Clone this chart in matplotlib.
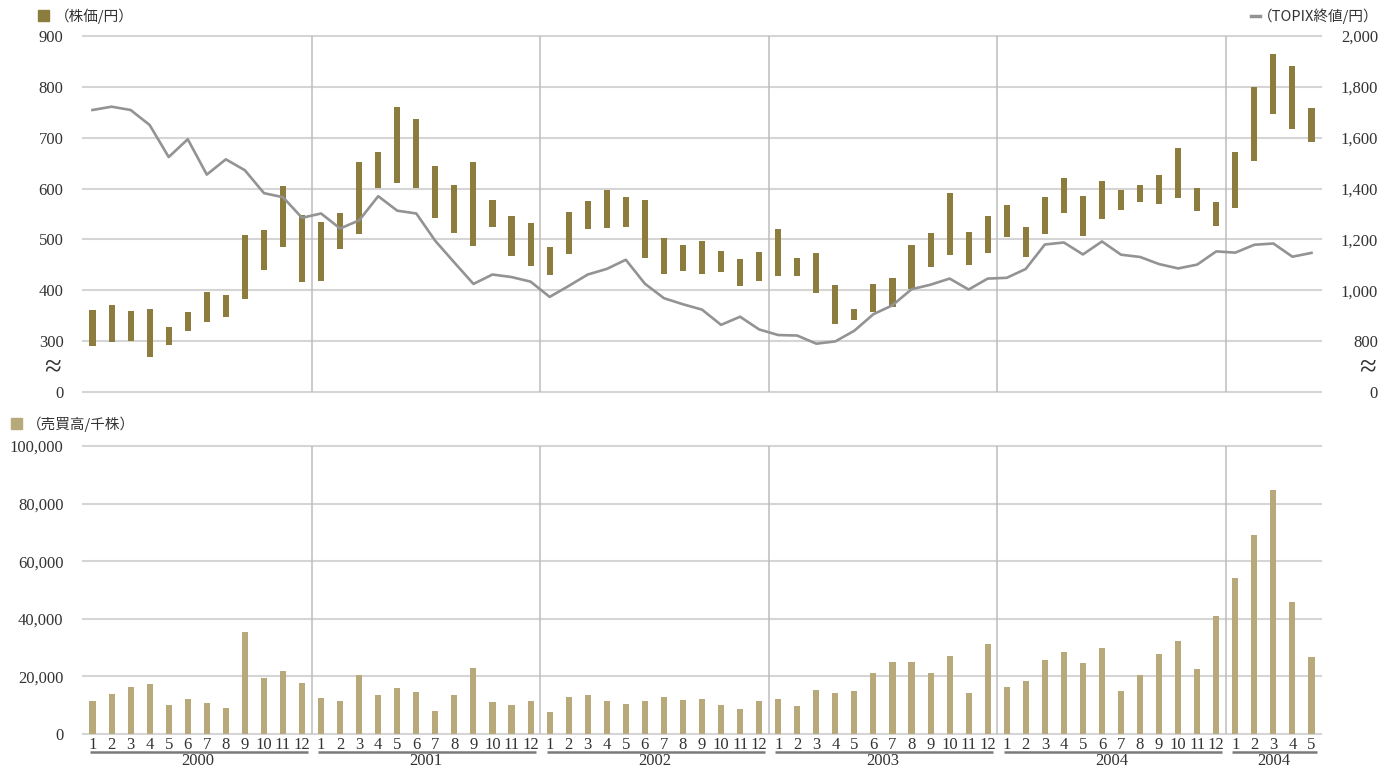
import matplotlib.pyplot as plt
import matplotlib.transforms as mtransforms
import numpy as np

# 月ラベルと年ラベル
months = [str(m) for m in range(1, 13)] * 5 + ['1', '2', '3', '4', '5']
years = ['2000', '2001', '2002', '2003', '2004', '2004']
year_sizes = [12, 12, 12, 12, 12, 5]

# 株価（高値・安値, 円）
price_high = [361, 371, 359, 363, 328, 357, 396, 390, 508, 518, 606, 549,
              535, 551, 653, 671, 761, 737, 645, 608, 653, 578, 547, 533,
              486, 553, 575, 598, 584, 578, 502, 490, 496, 478, 461, 476,
              520, 463, 473, 410, 363, 412, 425, 490, 512, 592, 514, 547,
              567, 525, 584, 620, 586, 614, 598, 608, 627, 680, 602, 573,
              671, 800, 865, 841, 759]
price_low = [291, 299, 301, 269, 293, 320, 338, 348, 383, 440, 485, 416,
             418, 481, 510, 601, 611, 601, 542, 512, 487, 524, 467, 448,
             430, 471, 520, 522, 524, 463, 432, 438, 432, 436, 408, 418,
             428, 428, 395, 334, 342, 357, 367, 403, 446, 469, 450, 473,
             505, 465, 510, 552, 506, 540, 557, 573, 569, 581, 556, 526,
             561, 654, 746, 718, 691]

# TOPIX終値（円）
topix = [1709, 1722, 1709, 1650, 1524, 1594, 1455, 1515, 1472, 1382, 1366, 1285,
         1302, 1243, 1275, 1370, 1313, 1302, 1194, 1109, 1025, 1062, 1052, 1034,
         974, 1017, 1062, 1084, 1120, 1026, 969, 945, 924, 864, 896, 846,
         824, 822, 790, 799, 841, 906, 941, 1004, 1022, 1046, 1003, 1046,
         1049, 1084, 1180, 1188, 1141, 1192, 1140, 1131, 1103, 1086, 1101, 1153,
         1148, 1179, 1184, 1132, 1147]

# 売買高（千株）
volume = [11400, 13800, 16300, 17300, 10000, 12100, 10700, 9000, 35300, 19400, 21800, 17600,
          12500, 11400, 20400, 13500, 15900, 14500, 8000, 13500, 22800, 11100, 10000, 11400,
          7600, 12800, 13500, 11400, 10400, 11400, 12800, 11800, 12100, 10000, 8700, 11400,
          12100, 9700, 15200, 14200, 14900, 21100, 24900, 24900, 21100, 27000, 14200, 31100,
          16300, 18300, 25600, 28400, 24600, 29800, 14900, 20400, 27700, 32200, 22500, 40800,
          54300, 69200, 84800, 45700, 26600]

price_color = '#8C7C3E'
vol_color = '#B8A97A'
line_color = '#939393'
grid_color = '#D5D5D5'
sep_color = '#BDBDBD'
text_color = '#333333'
serif = ['Liberation Serif', 'DejaVu Serif']
cjk = ['Noto Sans CJK JP', 'DejaVu Sans']

x = np.arange(len(months))
high = np.array(price_high)
low = np.array(price_low)

fig = plt.figure(figsize=(13.93, 7.71), dpi=100)
ax1 = fig.add_axes([83 / 1393, 1 - 392 / 771, 1238 / 1393, 356 / 771])
ax2 = fig.add_axes([83 / 1393, 1 - 734 / 771, 1238 / 1393, 288 / 771])

for ax in (ax1, ax2):
    for s in ax.spines.values():
        s.set_visible(False)
    ax.set_xlim(-0.5, len(months) - 0.5)
    ax.set_xticks([])

# 上段：株価レンジ + TOPIX
ax1.set_ylim(200, 900)
ticks1 = list(range(200, 1000, 100))
for t in ticks1:
    ax1.axhline(t, color=grid_color, lw=1.5, zorder=0, clip_on=False)
ax1.set_yticks(ticks1)
ax1.set_yticklabels(['0'] + [str(t) for t in ticks1[1:]], family=serif, fontsize=12, color=text_color)
ax1.tick_params(axis='y', length=0, pad=14)

ax1.bar(x, high - low, bottom=low, width=0.32, color=price_color, zorder=3)

ax1r = ax1.twinx()
for s in ax1r.spines.values():
    s.set_visible(False)
ax1r.set_ylim(600, 2000)
ticks_r = list(range(600, 2200, 200))
ax1r.set_yticks(ticks_r)
ax1r.set_yticklabels(['0'] + [f'{t:,}' for t in ticks_r[1:]], family=serif, fontsize=12, color=text_color)
ax1r.tick_params(axis='y', length=0, pad=41)
for lbl in ax1r.get_yticklabels():
    lbl.set_horizontalalignment('right')
ax1r.plot(x, topix, color=line_color, lw=1.9, zorder=4)

# 下段：売買高
ax2.set_ylim(0, 100000)
ticks2 = list(range(0, 120000, 20000))
for t in ticks2:
    ax2.axhline(t, color=grid_color, lw=1.5, zorder=0, clip_on=False)
ax2.set_yticks(ticks2)
ax2.set_yticklabels([f'{t:,}' for t in ticks2], family=serif, fontsize=12, color=text_color)
ax2.tick_params(axis='y', length=0, pad=14)
ax2.bar(x, volume, width=0.32, color=vol_color, zorder=3)

# 年の区切り線
bounds = np.cumsum(year_sizes)[:-1] - 0.5
for b in bounds:
    ax1.axvline(b, color=sep_color, lw=1.1, zorder=1)
    ax2.axvline(b, color=sep_color, lw=1.1, zorder=1)

# 月ラベル・年ラベル
trans = mtransforms.blended_transform_factory(ax2.transData, fig.transFigure)
for i, m in enumerate(months):
    ax2.text(i, 1 - 745 / 771, m, transform=trans, ha='center', va='center',
             family=serif, fontsize=12, color=text_color)
start = 0
for yr, n in zip(years, year_sizes):
    end = start + n - 1
    ax2.plot([start - 0.15, end + 0.3], [1 - 752 / 771] * 2, transform=trans,
             color='#7A7A7A', lw=1.8, clip_on=False, solid_capstyle='butt')
    ax2.text((start + end) / 2, 1 - 761 / 771, yr, transform=trans, ha='center', va='center',
             family=serif, fontsize=12, color=text_color)
    start += n

# 軸の省略記号
fig.text(53 / 1393, 1 - 368 / 771, '≈', ha='center', va='center', fontsize=22,
         family=serif, color=text_color)
fig.text(1368 / 1393, 1 - 368 / 771, '≈', ha='center', va='center', fontsize=22,
         family=serif, color=text_color)

# 凡例
fig.patches.append(plt.Rectangle((38 / 1393, 1 - 21 / 771), 11 / 1393, 11 / 771,
                                 transform=fig.transFigure, color=price_color))
fig.text(55 / 1393, 1 - 16 / 771, '（株価/円）', ha='left', va='center', fontsize=10.5,
         family=cjk, color=text_color)
fig.add_artist(plt.Line2D([1251 / 1393, 1260 / 1393], [1 - 16 / 771] * 2,
                          transform=fig.transFigure, color=line_color, lw=2.5))
fig.text(1378 / 1393, 1 - 16 / 771, '（TOPIX終値/円）', ha='right', va='center', fontsize=10.5,
         family=cjk, color=text_color)
fig.patches.append(plt.Rectangle((11 / 1393, 1 - 429 / 771), 11 / 1393, 11 / 771,
                                 transform=fig.transFigure, color=vol_color))
fig.text(27 / 1393, 1 - 424 / 771, '（売買高/千株）', ha='left', va='center', fontsize=10.5,
         family=cjk, color=text_color)

fig.savefig('out.png', dpi=100)
